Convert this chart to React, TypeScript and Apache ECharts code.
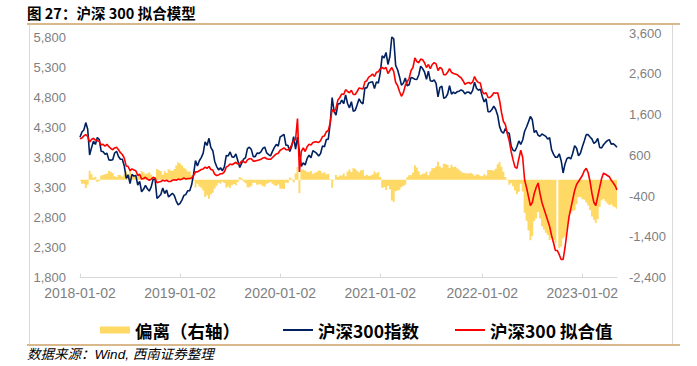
import React, { useEffect, useRef } from 'react';
import * as echarts from 'echarts';

// ---- tick labels ----
const yearTickLabels = ['2018-01-02', '2019-01-02', '2020-01-02', '2021-01-02', '2022-01-02', '2023-01-02'];
const yearTickIndex = [0, 52, 104, 156, 209, 261];
const leftTicks = [1800, 2300, 2800, 3300, 3800, 4300, 4800, 5300, 5800];
const rightTicks = [-2400, -1400, -400, 600, 1600, 2600, 3600];

// ---- CSI 300 index (weekly) ----
const csi2018 = [4138, 4225, 4258, 4382, 4271, 3841, 3964, 4071, 4018, 4134, 4100, 3904, 3898, 3853, 3871, 3760, 3756, 3763, 3875, 3903, 3816, 3770, 3771, 3659, 3452, 3510, 3366, 3520, 3491, 3501, 3340, 3403, 3229, 3269, 3335, 3279, 3240, 3310, 3438, 3438, 3118, 3149, 3184, 3290, 3200, 3257, 3143, 3173, 3204, 3165, 3074, 3011];
const csi2019 = [3035, 3094, 3169, 3184, 3247, 3247, 3345, 3520, 3749, 3658, 3746, 3797, 3872, 4062, 4001, 4120, 3964, 3913, 3734, 3649, 3593, 3630, 3580, 3643, 3835, 3826, 3893, 3808, 3807, 3858, 3747, 3634, 3707, 3773, 3799, 3948, 3972, 3935, 3814, 3814, 3874, 3869, 3895, 3952, 3974, 3877, 3849, 3828, 3902, 3968, 4017, 3990];
const csi2020 = [4144, 4163, 4186, 4003, 4003, 3899, 3987, 4149, 3940, 4138, 3895, 3653, 3710, 3675, 3784, 3839, 3796, 3912, 3894, 3868, 3824, 3867, 3994, 3979, 4099, 4106, 4371, 4799, 4574, 4505, 4695, 4695, 4757, 4696, 4844, 4700, 4628, 4729, 4570, 4587, 4681, 4778, 4719, 4695, 4962, 4958, 5041, 5054, 5063, 4948, 5060, 5042];
const csi2021 = [5211, 5495, 5458, 5551, 5351, 5484, 5808, 5779, 5336, 5262, 5145, 5007, 5037, 5124, 4997, 5012, 5135, 5123, 5105, 5100, 5175, 5321, 5283, 5225, 5102, 5240, 5081, 5069, 5094, 5037, 4811, 4968, 4988, 4787, 4802, 4858, 4995, 4856, 4890, 4866, 4898, 4905, 4928, 4908, 4860, 4888, 4889, 4860, 4919, 5055, 4954, 4921, 4940];
const csi2022 = [4818, 4726, 4779, 4563, 4563, 4600, 4657, 4600, 4502, 4315, 4230, 4205, 4283, 4215, 4205, 3988, 3921, 3908, 3979, 4077, 4018, 4092, 4238, 4309, 4394, 4485, 4429, 4216, 4251, 4170, 4155, 4191, 4172, 4153, 4106, 4132, 3932, 3856, 3804, 3804, 3861, 3747, 3542, 3693, 3784, 3802, 3775, 3870, 3998, 3953, 3828, 3872];
const csi2023 = [3980, 4075, 4181, 4181, 4141, 4106, 4034, 4061, 4117, 3968, 3959, 4013, 4051, 4081, 4098, 4023, 4029, 4005, 3970];

// ---- fitted value (weekly) ----
const fit2018 = [4110, 4125, 4160, 4180, 4150, 4060, 4100, 4120, 4090, 4080, 4070, 4010, 4020, 3990, 4020, 3980, 3950, 3930, 3960, 3970, 3930, 3880, 3850, 3790, 3660, 3650, 3580, 3610, 3590, 3580, 3500, 3520, 3440, 3450, 3470, 3440, 3420, 3440, 3470, 3460, 3380, 3390, 3400, 3420, 3410, 3420, 3400, 3400, 3420, 3430, 3420, 3440];
const fit2019 = [3430, 3440, 3460, 3440, 3450, 3450, 3460, 3500, 3560, 3560, 3580, 3600, 3610, 3640, 3620, 3650, 3600, 3590, 3520, 3500, 3510, 3530, 3530, 3560, 3640, 3660, 3690, 3680, 3700, 3720, 3690, 3700, 3740, 3730, 3710, 3760, 3780, 3780, 3740, 3740, 3750, 3760, 3770, 3790, 3800, 3780, 3770, 3770, 3800, 3830, 3860, 3870];
const fit2020 = [3920, 3940, 3960, 3930, 3930, 3950, 4010, 4080, 4100, 4450, 3560, 3900, 3960, 3900, 3980, 4020, 4010, 4050, 4060, 4060, 4050, 4080, 4150, 4160, 4230, 4250, 4380, 4600, 4560, 4620, 4760, 4800, 4860, 4850, 4930, 4900, 4880, 4920, 4850, 4850, 4900, 4960, 4950, 4940, 5060, 5080, 5140, 5160, 5190, 5150, 5220, 5230];
const fit2021 = [5280, 5300, 5280, 5300, 5200, 5250, 5300, 5230, 5050, 5000, 4900, 4820, 4880, 5000, 5060, 5120, 5250, 5300, 5460, 5400, 5380, 5440, 5430, 5380, 5300, 5350, 5280, 5350, 5380, 5360, 5250, 5300, 5280, 5180, 5180, 5220, 5280, 5220, 5200, 5190, 5180, 5150, 5130, 5080, 5020, 5040, 5050, 5030, 5060, 5150, 5080, 5050, 5040];
const fit2022 = [4900, 4860, 4880, 4800, 4800, 4830, 4880, 4870, 4880, 4750, 4550, 4400, 4350, 4200, 4080, 3900, 3760, 3640, 3620, 3780, 3920, 3800, 3425, 3300, 3150, 3000, 3050, 3200, 3300, 3375, 3200, 3050, 2950, 2850, 2750, 2650, 2500, 2380, 2250, 2250, 2180, 2100, 2100, 2300, 2550, 2800, 2950, 3100, 3250, 3350, 3400, 3450];
const fit2023 = [3500, 3580, 3620, 3550, 3400, 3200, 3050, 3000, 3150, 3300, 3450, 3540, 3520, 3500, 3480, 3420, 3380, 3330, 3260];

// ---- deviation (right axis, weekly) ----
const dev2018 = [-28, -100, -98, -202, -121, 219, 136, 49, 72, -54, -30, 106, 122, 137, 149, 220, 194, 167, 85, 67, 114, 110, 79, 131, 208, 140, 214, 90, 99, 79, 160, 117, 211, 181, 135, 161, 180, 130, 32, 22, 262, 241, 216, 130, 210, 163, 257, 227, 216, 265, 346, 429];
const dev2019 = [395, 346, 291, 256, 203, 203, 115, -20, -189, -98, -166, -197, -262, -422, -381, -470, -364, -323, -214, -149, -83, -100, -50, -83, -195, -166, -203, -128, -107, -138, -57, 66, 33, -43, -89, -188, -192, -155, -74, -74, -124, -109, -125, -162, -174, -97, -79, -58, -102, -138, -157, -120];
const dev2020 = [-224, -223, -226, -73, -73, 51, 23, -69, 160, 312, -335, 247, 250, 225, 196, 181, 214, 138, 166, 192, 226, 213, 156, 181, 131, 144, 9, -199, -14, 115, 65, 105, 103, 154, 86, 200, 252, 191, 280, 263, 219, 182, 231, 245, 98, 122, 99, 106, 127, 202, 160, 188];
const dev2021 = [69, -195, -178, -251, -151, -234, -508, -549, -286, -262, -245, -187, -157, -124, 63, 108, 115, 177, 355, 300, 205, 119, 147, 155, 198, 110, 199, 281, 286, 323, 439, 332, 292, 393, 378, 362, 285, 364, 310, 324, 282, 245, 202, 172, 160, 152, 161, 170, 141, 95, 126, 129, 100];
const dev2022 = [82, 134, 101, 237, 237, 230, 223, 270, 378, 435, 320, 195, 67, -15, -125, -88, -161, -268, -359, -297, -98, -292, -813, -1009, -1244, -1485, -1379, -1016, -951, -795, -955, -1141, -1222, -1303, -1356, -1482, -1432, -1476, -1554, null, -1681, -1647, -1442, -1393, -1234, -1002, -825, -770, -748, -603, -428, -422];
const dev2023 = [-480, -495, -561, -631, -741, -906, -984, -1061, -967, -668, -509, -473, -531, -581, -618, -603, -649, -675, -710];

const csi300 = [...csi2018, ...csi2019, ...csi2020, ...csi2021, ...csi2022, ...csi2023];
const fitted = [...fit2018, ...fit2019, ...fit2020, ...fit2021, ...fit2022, ...fit2023];
const deviation = [...dev2018, ...dev2019, ...dev2020, ...dev2021, ...dev2022, ...dev2023];

// weekly categories starting from the first week of 2018
const categories = csi300.map((_, i) => new Date(Date.UTC(2018, 0, 5) + i * 7 * 86400000).toISOString().slice(0, 10));

const fmt = (v: number) => {
  const s = Math.abs(Math.round(v)).toString().replace(/\B(?=(\d{3})+(?!\d))/g, ',');
  return v < 0 ? '-' + s : s;
};

const axisGray = '#7F7F7F';
const cjk = '"Noto Sans CJK SC", "Noto Sans", sans-serif';
const latin = '"Liberation Sans", Arial, "Noto Sans CJK SC", sans-serif';

export default function App() {
  const ref = useRef<HTMLDivElement>(null);
  useEffect(() => {
    document.body.style.margin = '0';
    const chart = echarts.init(ref.current!, undefined, { renderer: 'svg' });
    const legendText = { fontSize: 17.5, fontWeight: 'bold', color: '#000', fontFamily: cjk, lineHeight: 18 };
    chart.setOption({
      animation: false,
      backgroundColor: '#fff',
      grid: { left: 80, right: 80, top: 33, bottom: 88.5, containLabel: false },
      xAxis: {
        type: 'category',
        data: categories,
        boundaryGap: false,
        axisLine: { onZero: false, lineStyle: { color: '#D9D9D9', width: 1 } },
        axisTick: {
          show: true,
          inside: true,
          length: 4,
          interval: (i: number) => yearTickIndex.includes(i),
          lineStyle: { color: '#D9D9D9' },
        },
        axisLabel: {
          interval: (i: number) => yearTickIndex.includes(i),
          formatter: (_v: string, i: number) => {
            const k = yearTickIndex.indexOf(i);
            return k >= 0 ? yearTickLabels[k] : '';
          },
          color: axisGray,
          fontSize: 14,
          fontFamily: latin,
          margin: 8,
        },
        splitLine: { show: false },
      },
      yAxis: [
        {
          type: 'value',
          min: 1800,
          max: 5875,
          interval: 100,
          axisLine: { show: false },
          axisTick: { show: false },
          splitLine: { show: false },
          axisLabel: {
            color: axisGray,
            fontSize: 13,
            fontFamily: latin,
            margin: 14,
            formatter: (v: number) => (leftTicks.includes(Math.round(v)) ? fmt(v) : ''),
          },
        },
        {
          type: 'value',
          min: -2400,
          max: 3600,
          interval: 200,
          position: 'right',
          axisLine: { show: false },
          axisTick: { show: false },
          splitLine: { show: false },
          axisLabel: {
            color: axisGray,
            fontSize: 13,
            fontFamily: latin,
            margin: 12,
            formatter: (v: number) => (rightTicks.includes(Math.round(v)) ? fmt(v) : ''),
          },
        },
      ],
      legend: [
        {
          left: 100, top: 321, padding: 0, itemWidth: 30, itemHeight: 7, itemGap: 0,
          textStyle: legendText, selectedMode: false,
          data: [{ name: '偏离（右轴）', icon: 'rect', itemStyle: { color: '#FFD966', borderWidth: 0 } }],
        },
        {
          left: 283, top: 321, padding: 0, itemWidth: 30, itemHeight: 2, itemGap: 0,
          textStyle: legendText, selectedMode: false,
          data: [{ name: '沪深300指数', icon: 'rect', itemStyle: { color: '#002060', borderWidth: 0 } }],
        },
        {
          left: 455, top: 321, padding: 0, itemWidth: 30, itemHeight: 2, itemGap: 0,
          textStyle: legendText, selectedMode: false,
          data: [{ name: '沪深300 拟合值', icon: 'rect', itemStyle: { color: '#FF0000', borderWidth: 0 } }],
        },
      ],
      series: [
        {
          name: '偏离（右轴）',
          type: 'line',
          yAxisIndex: 1,
          data: deviation,
          symbol: 'none',
          step: 'middle',
          lineStyle: { width: 0, color: '#FFD966' },
          itemStyle: { color: '#FFD966' },
          areaStyle: { color: '#FFD966', opacity: 1, origin: 'auto' },
          z: 1,
        },
        {
          name: '沪深300指数',
          type: 'line',
          data: csi300,
          symbol: 'none',
          lineStyle: { color: '#002060', width: 1.6 },
          itemStyle: { color: '#002060' },
          z: 2,
        },
        {
          name: '沪深300 拟合值',
          type: 'line',
          data: fitted,
          symbol: 'none',
          lineStyle: { color: '#FF0000', width: 1.6 },
          itemStyle: { color: '#FF0000' },
          z: 3,
        },
      ],
      graphic: [
        {
          type: 'text', left: 27, top: 5,
          style: { text: '图 27：沪深 300 拟合模型', font: `bold 14.5px ${cjk}`, fill: '#000' },
        },
        { type: 'line', shape: { x1: 27, y1: 24, x2: 680, y2: 24 }, style: { stroke: '#CDA064', lineWidth: 1.5 } },
        { type: 'line', shape: { x1: 29.5, y1: 25, x2: 29.5, y2: 344 }, style: { stroke: '#D9D9D9', lineWidth: 1 } },
        { type: 'line', shape: { x1: 672.5, y1: 25, x2: 672.5, y2: 344 }, style: { stroke: '#D9D9D9', lineWidth: 1 } },
        { type: 'line', shape: { x1: 27, y1: 345, x2: 680, y2: 345 }, style: { stroke: '#CDA064', lineWidth: 1.5 } },
        {
          type: 'text', left: 27, top: 348,
          style: { text: '数据来源：Wind, 西南证券整理', font: `italic 13.5px ${latin}`, fill: '#000' },
        },
      ],
    });
    return () => chart.dispose();
  }, []);
  return <div ref={ref} style={{ position: 'fixed', left: 0, top: 0, width: 697, height: 366 }} />;
}
